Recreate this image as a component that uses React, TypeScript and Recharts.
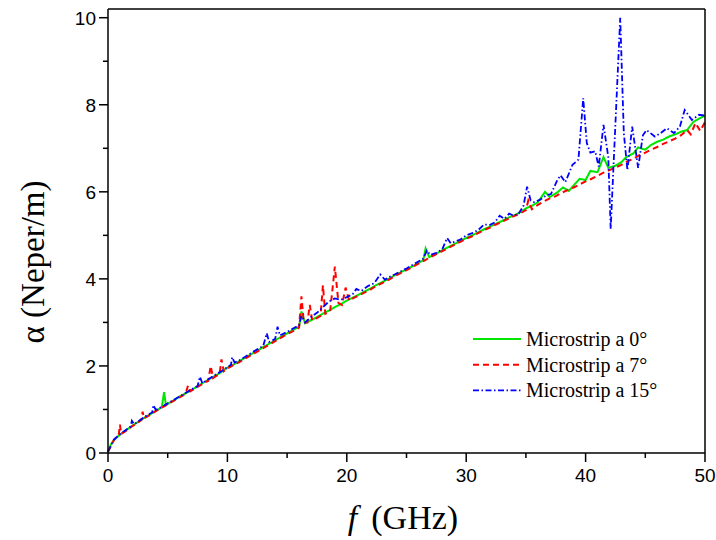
import { LineChart, Line, XAxis, YAxis } from "recharts"

// [f (GHz), alpha (Neper/m)]
const micro0: [number, number][] = [
  [0, 0.03], [0.25, 0.2], [0.5, 0.3], [1, 0.42], [1.5, 0.52], [2, 0.62], [2.5, 0.71], [3, 0.8], [3.5, 0.88],
  [4, 0.97], [4.5, 1.05], [4.7, 1.4], [4.85, 1.1], [5, 1.13], [5.5, 1.21], [6, 1.3], [6.5, 1.37], [7, 1.45],
  [7.5, 1.53], [8, 1.62], [8.5, 1.7], [9, 1.78], [9.5, 1.86], [10, 1.96], [10.5, 2.03], [11, 2.11], [11.5, 2.19],
  [12, 2.27], [12.5, 2.35], [13, 2.43], [13.5, 2.51], [14, 2.59], [14.5, 2.67], [15, 2.75], [15.5, 2.83], [16, 2.9],
  [16.2, 3.25], [16.5, 2.98], [17, 3.05], [17.5, 3.12], [18, 3.2], [18.5, 3.27], [19, 3.35], [19.5, 3.42], [20, 3.5],
  [20.5, 3.57], [21, 3.64], [21.5, 3.71], [22, 3.78], [22.5, 3.86], [23, 3.93], [23.5, 4.0], [24, 4.08], [24.5, 4.15],
  [25, 4.22], [25.5, 4.29], [26, 4.37], [26.4, 4.43], [26.6, 4.7], [26.9, 4.5], [27.5, 4.58], [28, 4.66], [28.5, 4.73],
  [29, 4.8], [29.5, 4.87], [30, 4.94], [30.5, 5.0], [31, 5.07], [31.5, 5.14], [32, 5.2], [32.5, 5.27], [33, 5.33],
  [33.5, 5.4], [34, 5.46], [34.5, 5.53], [35, 5.62], [35.5, 5.68], [36, 5.76], [36.6, 6.0], [37, 5.88], [37.6, 5.98],
  [38.1, 6.1], [38.6, 6.02], [39, 6.15], [39.5, 6.3], [40, 6.27], [40.4, 6.48], [41, 6.45], [41.5, 6.8], [41.9, 6.55],
  [42.5, 6.6], [43, 6.68], [43.4, 6.8], [44, 6.88], [44.4, 7.02], [45, 6.97], [45.5, 7.08], [46, 7.15], [46.5, 7.2],
  [47, 7.27], [47.5, 7.32], [48, 7.38], [48.5, 7.42], [49, 7.6], [49.5, 7.68], [50, 7.75],
]

const micro7: [number, number][] = [
  [0, 0.03], [0.5, 0.3], [0.9, 0.42], [1, 0.65], [1.1, 0.44], [1.5, 0.51], [2, 0.61], [2.5, 0.7], [2.8, 0.76],
  [2.9, 0.95], [3, 0.8], [3.5, 0.87], [4, 0.96], [4.5, 1.04], [5, 1.12], [5.5, 1.2], [6, 1.28], [6.5, 1.36],
  [6.7, 1.55], [6.9, 1.42], [7.5, 1.52], [8, 1.6], [8.4, 1.66], [8.6, 2.0], [8.8, 1.72], [9, 1.76], [9.35, 1.82],
  [9.5, 2.15], [9.7, 1.88], [10, 1.94], [10.5, 2.02], [11, 2.09], [11.5, 2.17], [12, 2.25], [12.5, 2.33], [13, 2.41],
  [13.5, 2.49], [14, 2.57], [14.5, 2.65], [15, 2.73], [15.5, 2.8], [16, 2.88], [16.2, 3.6], [16.4, 3.0], [16.7, 3.0],
  [16.9, 3.4], [17.1, 3.05], [17.5, 3.1], [17.8, 3.15], [18, 3.85], [18.2, 3.2], [18.6, 3.25], [19, 4.28], [19.3, 3.45],
  [19.6, 3.4], [19.9, 3.8], [20.2, 3.5], [20.5, 3.55], [21, 3.62], [21.5, 3.69], [22, 3.76], [22.5, 3.84], [23, 3.91],
  [23.5, 3.98], [24, 4.06], [24.5, 4.13], [25, 4.2], [25.5, 4.27], [26, 4.35], [26.5, 4.42], [27, 4.5], [27.5, 4.57],
  [28, 4.64], [28.5, 4.71], [29, 4.78], [29.5, 4.85], [30, 4.92], [30.5, 4.98], [31, 5.05], [31.5, 5.12], [32, 5.18],
  [32.5, 5.25], [33, 5.31], [33.5, 5.38], [34, 5.44], [34.5, 5.5], [35, 5.58], [35.2, 5.8], [35.5, 5.6], [36, 5.7],
  [36.5, 5.78], [37, 5.85], [37.5, 5.9], [38, 5.98], [38.5, 6.04], [39, 6.1], [39.5, 6.17], [40, 6.24], [40.5, 6.3],
  [41, 6.37], [41.5, 6.44], [42, 6.5], [42.5, 6.56], [43, 6.62], [43.5, 6.7], [44, 6.76], [44.5, 6.84], [45, 6.9],
  [45.5, 6.97], [46, 7.03], [46.5, 7.1], [47, 7.16], [47.5, 7.22], [48, 7.3], [48.5, 7.42], [48.8, 7.32], [49.2, 7.58],
  [49.6, 7.4], [50, 7.6],
]

const micro15: [number, number][] = [
  [0, 0.03], [0.5, 0.31], [1, 0.43], [1.5, 0.53], [1.9, 0.61], [2, 0.74], [2.2, 0.66], [2.5, 0.72], [3, 0.82],
  [3.5, 0.9], [3.7, 0.93], [3.8, 1.1], [4, 0.99], [4.5, 1.06], [5, 1.14], [5.5, 1.22], [6, 1.3], [6.5, 1.38],
  [7, 1.46], [7.5, 1.54], [7.7, 1.75], [7.9, 1.6], [8.5, 1.71], [9, 1.8], [9.5, 1.88], [10, 1.97], [10.3, 2.03],
  [10.4, 2.2], [10.6, 2.08], [11, 2.13], [11.5, 2.21], [12, 2.3], [12.5, 2.38], [13, 2.46], [13.3, 2.75], [13.5, 2.55],
  [14, 2.62], [14.2, 2.9], [14.4, 2.7], [15, 2.78], [15.5, 2.86], [16, 2.93], [16.2, 3.15], [16.5, 3.0], [17, 3.12],
  [17.5, 3.22], [18, 3.35], [18.5, 3.48], [19, 3.55], [19.5, 3.52], [20, 3.58], [20.5, 3.65], [20.8, 3.77], [21.2, 3.72],
  [21.8, 3.84], [22.3, 3.9], [22.8, 4.1], [23.2, 3.98], [23.6, 4.05], [24, 4.1], [24.5, 4.17], [25, 4.24], [25.5, 4.32],
  [26, 4.4], [26.4, 4.46], [26.7, 4.65], [27, 4.55], [27.5, 4.6], [28, 4.68], [28.4, 4.94], [28.7, 4.82], [29, 4.85],
  [29.5, 4.9], [30, 5.0], [30.5, 5.05], [31, 5.12], [31.5, 5.25], [32, 5.24], [32.4, 5.3], [32.8, 5.45], [33.2, 5.38],
  [33.6, 5.5], [34, 5.45], [34.4, 5.5], [34.8, 5.68], [35.1, 6.12], [35.4, 5.8], [35.7, 5.76], [36.2, 5.82], [36.7, 5.92],
  [37.1, 5.95], [37.6, 6.25], [37.9, 6.38], [38.3, 6.22], [38.9, 6.62], [39.4, 6.74], [39.8, 8.15], [40.1, 7.12],
  [40.4, 6.9], [40.8, 6.93], [41.1, 6.58], [41.5, 7.54], [41.9, 6.8], [42.1, 5.15], [42.9, 10.0], [43.2, 7.35],
  [43.5, 6.5], [43.9, 7.5], [44.4, 6.55], [44.8, 7.3], [45.1, 7.42], [45.8, 7.27], [46.3, 7.35], [46.8, 7.46],
  [47.4, 7.35], [47.9, 7.5], [48.3, 7.88], [48.9, 7.65], [49.5, 7.77], [50, 7.75],
]

const freqTicks = [0, 5, 10, 15, 20, 25, 30, 35, 40, 45, 50]
const alphaTicks = [0, 1, 2, 3, 4, 5, 6, 7, 8, 9, 10]

const series = [
  { name: "Microstrip a 0°", points: micro0, color: "#00e600", dash: undefined, width: 2 },
  { name: "Microstrip a 7°", points: micro7, color: "#ff0000", dash: "6 4", width: 2 },
  { name: "Microstrip a 15°", points: micro15, color: "#0000ff", dash: "6 2.5 1.5 2.5", width: 1.8 },
]

const sansStyle = { fontFamily: '"Liberation Sans", Arial, sans-serif' }
const serifStyle = { fontFamily: '"Liberation Serif", "Times New Roman", serif' }

function BottomTick(props: any) {
  const { x, y, payload } = props
  const major = payload.value % 10 === 0
  return (
    <g>
      <line x1={x} y1={y} x2={x} y2={y + (major ? 9 : 5)} stroke="#000" strokeWidth={1.5} />
      {major && (
        <text x={x} y={y + 29} textAnchor="middle" fontSize={19} style={sansStyle} fill="#000">
          {payload.value}
        </text>
      )}
    </g>
  )
}

function TopTick(props: any) {
  const { x, y, payload } = props
  const major = payload.value % 10 === 0
  return <line x1={x} y1={y} x2={x} y2={y + (major ? 8 : 5)} stroke="#000" strokeWidth={1.5} />
}

function LeftTick(props: any) {
  const { x, y, payload } = props
  const major = payload.value % 2 === 0
  return (
    <g>
      <line x1={x - (major ? 9 : 5)} y1={y} x2={x} y2={y} stroke="#000" strokeWidth={1.5} />
      {major && (
        <text x={x - 12} y={y + 7} textAnchor="end" fontSize={19} style={sansStyle} fill="#000">
          {payload.value}
        </text>
      )}
    </g>
  )
}

function RightTick(props: any) {
  const { x, y, payload } = props
  const major = payload.value % 2 === 0
  return <line x1={x - (major ? 8 : 5)} y1={y} x2={x} y2={y} stroke="#000" strokeWidth={1.5} />
}

export default function App() {
  return (
    <div style={{ position: "absolute", left: 0, top: 0, width: 716, height: 540, background: "#fff" }}>
      <LineChart width={716} height={540} margin={{ top: 9, right: 11, bottom: 0, left: 0 }}>
        <XAxis
          xAxisId="b"
          type="number"
          dataKey="f"
          domain={[0, 50]}
          ticks={freqTicks}
          interval={0}
          height={87}
          tickSize={0}
          tickMargin={0}
          tickLine={false}
          axisLine={{ stroke: "#000", strokeWidth: 1.5 }}
          tick={(p: any) => <BottomTick {...p} />}
        />
        <XAxis
          xAxisId="t"
          orientation="top"
          mirror
          type="number"
          dataKey="f"
          domain={[0, 50]}
          ticks={freqTicks}
          interval={0}
          tickSize={0}
          tickMargin={0}
          tickLine={false}
          axisLine={{ stroke: "#000", strokeWidth: 1.5 }}
          tick={(p: any) => <TopTick {...p} />}
        />
        <YAxis
          yAxisId="l"
          type="number"
          domain={[0, 10.2]}
          ticks={alphaTicks}
          interval={0}
          width={108}
          tickSize={0}
          tickMargin={0}
          tickLine={false}
          axisLine={{ stroke: "#000", strokeWidth: 1.5 }}
          tick={(p: any) => <LeftTick {...p} />}
        />
        <YAxis
          yAxisId="r"
          orientation="right"
          mirror
          type="number"
          domain={[0, 10.2]}
          ticks={alphaTicks}
          interval={0}
          tickSize={0}
          tickMargin={0}
          tickLine={false}
          axisLine={{ stroke: "#000", strokeWidth: 1.5 }}
          tick={(p: any) => <RightTick {...p} />}
        />
        {series.map((s) => (
          <Line
            key={s.name}
            xAxisId="b"
            yAxisId="l"
            data={s.points.map(([f, a]) => ({ f, a }))}
            dataKey="a"
            type="linear"
            stroke={s.color}
            strokeWidth={s.width}
            strokeDasharray={s.dash}
            dot={false}
            isAnimationActive={false}
          />
        ))}
      </LineChart>
      <svg width={716} height={540} style={{ position: "absolute", left: 0, top: 0, pointerEvents: "none" }}>
        <text x={403} y={529} textAnchor="middle" fontSize={34} style={serifStyle} fill="#000">
          <tspan fontStyle="italic">f</tspan>
          <tspan dx={14}>(GHz)</tspan>
        </text>
        <text
          x={44}
          y={262}
          transform="rotate(-90 44 262)"
          textAnchor="middle"
          fontSize={33}
          style={serifStyle}
          fill="#000"
        >
          α (Neper/m)
        </text>
        {series.map((s, i) => (
          <g key={s.name}>
            <line
              x1={473}
              x2={521}
              y1={339 + i * 25.7}
              y2={339 + i * 25.7}
              stroke={s.color}
              strokeWidth={s.width}
              strokeDasharray={s.dash}
            />
            <text x={526} y={346 + i * 25.7} fontSize={20} style={serifStyle} fill="#000">
              {s.name}
            </text>
          </g>
        ))}
      </svg>
    </div>
  )
}
